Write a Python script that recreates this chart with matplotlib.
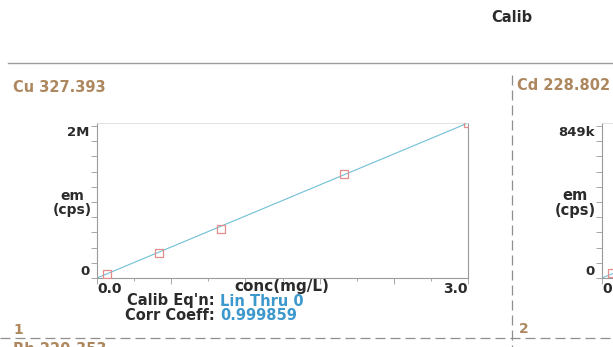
import numpy as np
import matplotlib
matplotlib.use("Agg")
import matplotlib.pyplot as plt
from matplotlib.lines import Line2D

plt.rcParams['font.family'] = ['DejaVu Sans']
plt.rcParams['font.weight'] = 'bold'

# Cu 327.393 calibration standards
cu_conc = [0.08, 0.5, 1.0, 2.0, 3.0]
cu_em = [0.055e6, 0.33e6, 0.65e6, 1.37e6, 2.04e6]
cu_slope = 0.68e6  # cps per mg/L, linear through 0

# Cd 228.802 (panel is cut off at the right edge)
cd_conc = [0.08, 0.5, 1.0, 2.0, 3.0]
cd_em = [0.03e6, 0.14e6, 0.28e6, 0.57e6, 0.849e6]
cd_slope = 0.283e6

W, H = 613, 347
fig = plt.figure(figsize=(W / 100, H / 100), dpi=100)

BROWN = '#ad875e'
BLUE = '#3d98cc'
LINE = '#6fc0d6'
MARK = '#e48c8c'
DARK = '#2b2b2b'


def fx(x):
    return x / W


def fy(y):
    return 1 - y / H


def panel(left, conc, em, slope, ymax, ylab_top):
    ax = fig.add_axes([fx(left), fy(278), fx(371), (278 - 123) / H])
    xs = np.array([0, 3.0])
    ax.plot(xs, xs * slope, color=LINE, lw=0.8, zorder=2)
    ax.plot(conc, em, ls='none', marker='s', ms=6, mfc='none', mec=MARK, mew=0.9,
            zorder=3)
    ax.set_xlim(0, 3.0)
    ax.set_ylim(0, ymax)
    yt = np.linspace(0, ymax / 1.02, 11)
    ax.set_yticks(yt)
    ax.set_yticklabels(['0'] + [''] * 9 + [ylab_top])
    labs = ax.get_yticklabels()
    labs[0].set_va('bottom')
    labs[-1].set_va('top')
    ax.set_xticks(np.arange(0, 3.01, 0.6))
    ax.set_xticklabels(['0.0', '', '', '', '', '3.0'])
    ax.set_xticks(np.arange(0.3, 3.0, 0.6), minor=True)
    xl = ax.get_xticklabels()
    xl[0].set_ha('left')
    xl[-1].set_ha('right')
    ax.tick_params(axis='y', direction='out', length=4.5, width=0.6, color='#999999',
                   labelsize=9.5, pad=1, labelcolor=DARK)
    ax.tick_params(axis='x', which='major', direction='out', length=4, width=0.6,
                   color='#999999', labelsize=10, pad=-1, labelcolor=DARK)
    ax.tick_params(axis='x', which='minor', direction='out', length=2.5, width=0.6,
                   color='#999999')
    for s in ['left', 'bottom', 'right']:
        ax.spines[s].set_color('#9a9a9a')
        ax.spines[s].set_linewidth(0.8)
    ax.spines['top'].set_color('#dddddd')
    ax.spines['top'].set_linewidth(0.6)
    ax.set_facecolor('none')
    return ax


ax1 = panel(97, cu_conc, cu_em, cu_slope, 2.04e6, '2M')
ax2 = panel(602, cd_conc, cd_em, cd_slope, 0.866e6, '849k')

# header
fig.text(fx(512), fy(18), 'Calib', fontsize=10.5, color=DARK, ha='center', va='center')
fig.add_artist(Line2D([fx(8), 1], [fy(63), fy(63)], color='#9c9c9c', lw=1.0))

# panel 1 labels
fig.text(fx(13), fy(87), 'Cu 327.393', fontsize=10.5, color=BROWN, ha='left', va='center')
fig.text(fx(72), fy(203), 'em\n(cps)', fontsize=10, color=DARK, ha='center', va='center',
         linespacing=1.0)
fig.text(fx(282), fy(286), 'conc(mg/L)', fontsize=11, color=DARK, ha='center', va='center')
fig.text(fx(215), fy(301), "Calib Eq'n:", fontsize=10.5, color=DARK, ha='right', va='center')
fig.text(fx(220), fy(301), 'Lin Thru 0', fontsize=10.5, color=BLUE, ha='left', va='center')
fig.text(fx(215), fy(316), 'Corr Coeff:', fontsize=10.5, color=DARK, ha='right', va='center')
fig.text(fx(220), fy(316), '0.999859', fontsize=10.5, color=BLUE, ha='left', va='center')
fig.text(fx(13), fy(330), '1', fontsize=10, color=BROWN, ha='left', va='center')
fig.text(fx(13), fy(350), 'Rh 220.353', fontsize=10.5, color=BROWN, ha='left', va='center')

# panel 2 labels
fig.text(fx(517), fy(86), 'Cd 228.802', fontsize=10.5, color=BROWN, ha='left', va='center')
fig.text(fx(575), fy(203), 'em\n(cps)', fontsize=10.5, color=DARK, ha='center', va='center',
         linespacing=1.0)
fig.text(fx(519), fy(329), '2', fontsize=10, color=BROWN, ha='left', va='center')

# dashed separators
fig.add_artist(Line2D([fx(512), fx(512)], [fy(75), 0], color='#8f8f8f', lw=0.9,
                      ls=(0, (8, 4))))
fig.add_artist(Line2D([0, 1], [fy(338), fy(338)], color='#8f8f8f', lw=0.9,
                      ls=(0, (8, 4))))

fig.savefig('out.png', dpi=100)
